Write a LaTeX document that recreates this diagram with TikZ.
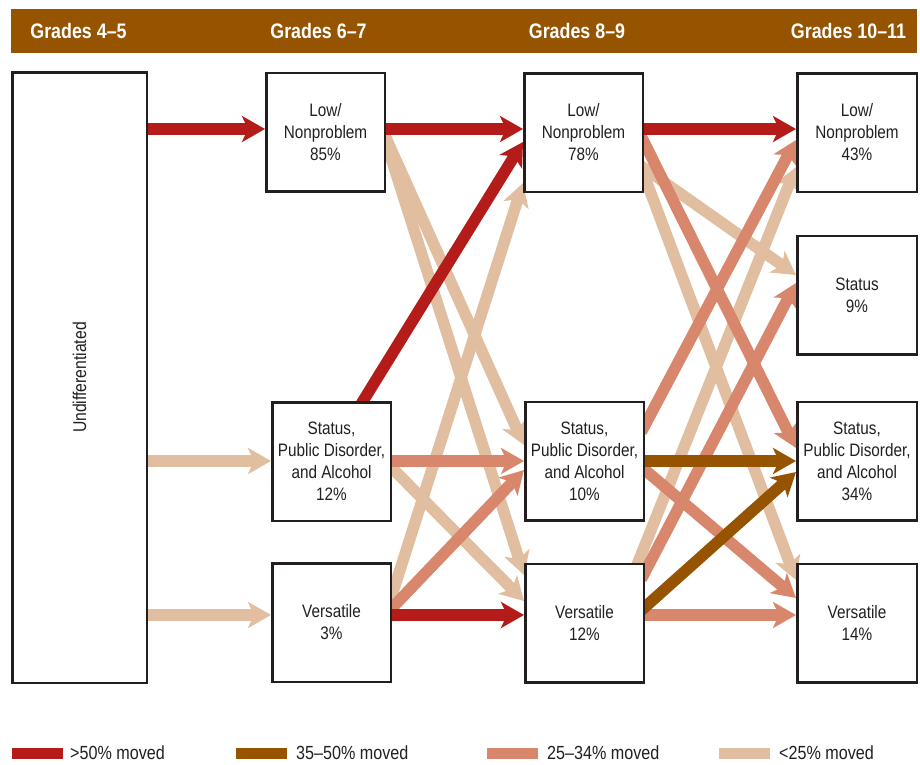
\documentclass[tikz,border=0pt]{standalone}
\usepackage{fontspec}
\setmainfont{Liberation Sans}[FakeStretch=0.85]
\usetikzlibrary{arrows.meta,calc,backgrounds}
\definecolor{cRed}{RGB}{180,28,26}
\definecolor{cBrown}{RGB}{150,83,0}
\definecolor{cSalmon}{RGB}{217,135,108}
\definecolor{cTan}{RGB}{224,190,159}
\definecolor{cBand}{RGB}{150,83,0}
\definecolor{cInk}{RGB}{35,31,32}
\newcommand\flowarrow[3]{%
  \coordinate (fs) at #2;
  \coordinate (fe) at #3;
  \draw[#1] ($(fs)!-8pt!(fe)$) -- (fe);
}
\tikzset{
  box/.style={draw=cInk, line width=2.5pt, fill=white, inner sep=0pt,
    minimum width=118.5pt, minimum height=118.5pt, align=center,
    text=cInk, font=\fontsize{18}{22}\selectfont},
  head/.style={text=white, font=\bfseries\fontsize{21}{24}\selectfont, inner sep=0pt},
  flow/.style={line width=11.5pt, -{Stealth[length=23pt,width=26pt,inset=6pt]}},
  fRed/.style={flow, draw=cRed},
  fBrown/.style={flow, draw=cBrown},
  fSalmon/.style={flow, draw=cSalmon},
  fTan/.style={flow, draw=cTan},
  swatch/.style={minimum width=51pt, minimum height=11pt, inner sep=0pt},
  legtext/.style={anchor=west, text=cInk, inner sep=0pt, font=\fontsize{19}{22}\selectfont}
}
\begin{document}
\begin{tikzpicture}[x=1pt,y=-1pt]
\useasboundingbox (0,0) rectangle (920,764);
% header band
\fill[cBand] (11,9) rectangle (917,53);
\node[head] (h1) at (78.5,31) {Grades 4–5};
\node[head] (h2) at (318.5,31) {Grades 6–7};
\node[head] (h3) at (577,31) {Grades 8–9};
\node[head] (h4) at (848.5,31) {Grades 10–11};
% boxes
\node[box, minimum width=134.5pt, minimum height=610.5pt] (undiff) at (79.5,377.5)
  {\rotatebox{90}{\fontsize{18.5}{20}\selectfont Undifferentiated}};
\node[box] (low2) at (325.5,132) {Low/\\Nonproblem\\85\%};
\node[box] (spda2) at (331.5,461.5) {Status,\\Public Disorder,\\and Alcohol\\12\%};
\node[box] (vers2) at (331.5,622.5) {Versatile\\3\%};
\node[box] (low3) at (583.5,132.5) {Low/\\Nonproblem\\78\%};
\node[box] (spda3) at (584.5,461) {Status,\\Public Disorder,\\and Alcohol\\10\%};
\node[box] (vers3) at (584.5,623) {Versatile\\12\%};
\node[box, minimum width=119.5pt] (low4) at (857,132.5) {Low/\\Nonproblem\\43\%};
\node[box, minimum width=119.5pt] (stat4) at (857,295) {Status\\9\%};
\node[box, minimum width=119.5pt] (spda4) at (857,461) {Status,\\Public Disorder,\\and Alcohol\\34\%};
\node[box, minimum width=119.5pt] (vers4) at (857,623) {Versatile\\14\%};
% flows
\begin{scope}[on background layer]
% tan
\flowarrow{fTan}{(undiff.east |- 0,461)}{(spda2.west |- 0,461)}
\flowarrow{fTan}{(undiff.east |- 0,615)}{(vers2.west |- 0,615)}
\flowarrow{fTan}{(low2.east |- 0,138)}{(spda3.west |- 0,445)}
\flowarrow{fTan}{(low2.east |- 0,142)}{(vers3.west |- 0,575)}
\flowarrow{fTan}{(spda2.east |- 0,468)}{(vers3.west |- 0,601)}
\flowarrow{fTan}{(vers2.east |- 0,595)}{(low3.west |- 0,183)}
\flowarrow{fTan}{(low3.east |- 0,168)}{(stat4.west |- 0,275)}
\flowarrow{fTan}{(low3.east |- 0,175)}{(vers4.west |- 0,580)}
\flowarrow{fTan}{(vers3.north -| 638,0)}{(low4.west |- 0,167)}
% salmon
\flowarrow{fSalmon}{(spda2.east |- 0,461)}{(spda3.west |- 0,461)}
\flowarrow{fSalmon}{(vers2.east |- 0,608)}{(spda3.west |- 0,470)}
\flowarrow{fSalmon}{(low3.east |- 0,142)}{(spda4.west |- 0,448)}
\flowarrow{fSalmon}{(spda3.east |- 0,425)}{(low4.west |- 0,140)}
\flowarrow{fSalmon}{(spda3.east |- 0,470)}{(vers4.west |- 0,598)}
\flowarrow{fSalmon}{(vers3.east |- 0,572)}{(stat4.west |- 0,283)}
\flowarrow{fSalmon}{(vers3.east |- 0,615)}{(vers4.west |- 0,615)}
% brown
\flowarrow{fBrown}{(spda3.east |- 0,461)}{(spda4.west |- 0,461)}
\flowarrow{fBrown}{(vers3.east |- 0,607)}{(spda4.west |- 0,472)}
% red
\flowarrow{fRed}{(undiff.east |- 0,129)}{(low2.west |- 0,129)}
\flowarrow{fRed}{(low2.east |- 0,129)}{(low3.west |- 0,129)}
\flowarrow{fRed}{(spda2.north -| 363,0)}{(low3.west |- 0,142)}
\flowarrow{fRed}{(vers2.east |- 0,615)}{(vers3.west |- 0,615)}
\flowarrow{fRed}{(low3.east |- 0,129)}{(low4.west |- 0,129)}
\end{scope}
% legend
\node[swatch, fill=cRed] (sw1) at (37.5,753) {};
\node[legtext] (lt1) at (70,753) {>50\% moved};
\node[swatch, fill=cBrown] (sw2) at (261.5,753) {};
\node[legtext] (lt2) at (296,753) {35–50\% moved};
\node[swatch, fill=cSalmon] (sw3) at (512.5,753) {};
\node[legtext] (lt3) at (547,753) {25–34\% moved};
\node[swatch, fill=cTan] (sw4) at (744.5,753) {};
\node[legtext] (lt4) at (779,753) {<25\% moved};
\end{tikzpicture}
\end{document}
